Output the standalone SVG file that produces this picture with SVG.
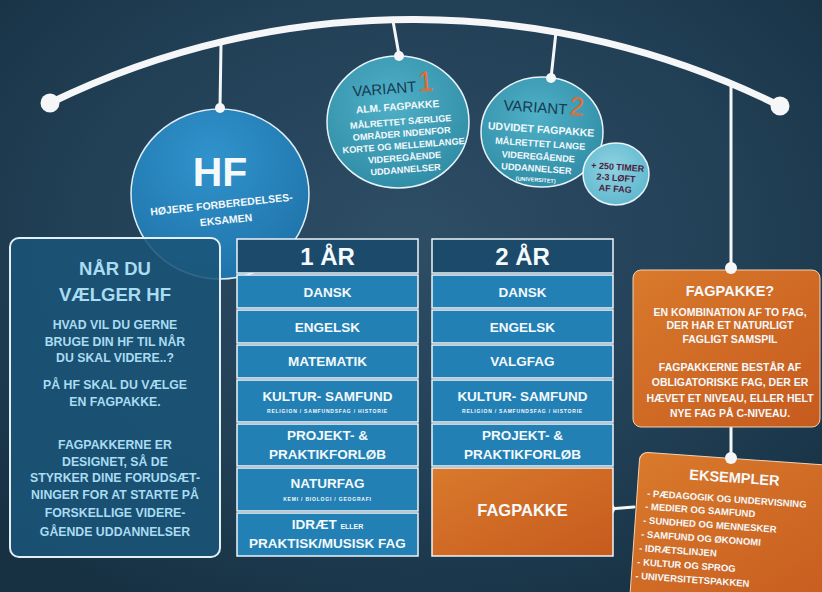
<svg xmlns="http://www.w3.org/2000/svg" width="822" height="592" viewBox="0 0 822 592">
<defs>
<radialGradient id="bg" cx="0.5" cy="0.4" r="0.7">
<stop offset="0" stop-color="#2e4e66"/>
<stop offset="0.6" stop-color="#213f55"/>
<stop offset="1" stop-color="#173143"/>
</radialGradient>
<radialGradient id="hfg" cx="0.45" cy="0.3" r="0.7">
<stop offset="0" stop-color="#3193cc"/>
<stop offset="1" stop-color="#1f74aa"/>
</radialGradient>
<radialGradient id="tealg" cx="0.45" cy="0.35" r="0.7">
<stop offset="0" stop-color="#4fb0c6"/>
<stop offset="1" stop-color="#2f8ba5"/>
</radialGradient>
<radialGradient id="smallg" cx="0.45" cy="0.4" r="0.7">
<stop offset="0" stop-color="#8fd3e2"/>
<stop offset="1" stop-color="#5ab4cb"/>
</radialGradient>
<linearGradient id="og" x1="0" y1="0" x2="1" y2="1">
<stop offset="0" stop-color="#d97a2c"/>
<stop offset="1" stop-color="#c65a1e"/>
</linearGradient>
<style>
.t{font-family:"Liberation Sans",Arial,sans-serif;font-weight:bold;text-anchor:middle}
.w{fill:#f4f9fc}
.lb{fill:#aadcf2}
.row{fill:#2280b4;stroke:#eef5fa;stroke-width:1.5}
.hdr{fill:#1b4a6b;stroke:#eef5fa;stroke-width:1.5}
.str{stroke:#f4f6f8;stroke-width:3;fill:none;stroke-linecap:round}
.dot{fill:#f4f6f8}
.r14{font-size:13.5px}
.sub{font-size:5px;letter-spacing:0.8px}
.ls{text-anchor:start}
</style>
</defs>
<rect width="822" height="592" fill="url(#bg)"/>

<g id="connectors">
<path d="M50,103 A826,826 0 0,1 780,106" stroke="#f4f6f8" stroke-width="7" fill="none"/>
<circle class="dot" cx="50" cy="103" r="9.5"/>
<circle class="dot" cx="780" cy="106" r="9.5"/>
<line class="str" x1="221" y1="44" x2="220" y2="108"/>
<line class="str" x1="393" y1="21" x2="399" y2="55"/>
<line class="str" x1="556" y1="32" x2="551" y2="78"/>
<line class="str" x1="731" y1="84" x2="731" y2="458"/>
<line class="str" x1="609" y1="509" x2="634" y2="507"/>
<circle class="dot" cx="609" cy="509" r="6"/>
</g>

<g id="hf">
<ellipse cx="220" cy="194" rx="89" ry="85" fill="url(#hfg)" stroke="#dfeef7" stroke-width="1.5"/>
<circle class="dot" cx="220" cy="108" r="5"/>
<text class="t w" x="220" y="186" font-size="41">HF</text>
<g transform="rotate(-6 222 210)">
<text class="t w" x="222" y="208" font-size="10.5">HØJERE FORBEREDELSES-</text>
<text class="t w" x="225" y="224" font-size="10.5">EKSAMEN</text>
</g>
</g>

<g id="variant1">
<ellipse cx="398" cy="122" rx="71" ry="66" fill="url(#tealg)" stroke="#e6f3f7" stroke-width="1.5"/>
<circle class="dot" cx="399" cy="56" r="5"/>
<g transform="rotate(-4.5 400 125)">
<text class="t" x="396" y="93"><tspan fill="#173a52" font-size="15" font-weight="normal">VARIANT</tspan><tspan fill="#ea6a2c" font-size="28" font-weight="normal" dx="2">1</tspan></text>
<text class="t w" x="399" y="110" font-size="10.2">ALM. FAGPAKKE</text>
<text class="t w" x="401" y="125" font-size="9.2">MÅLRETTET SÆRLIGE</text>
<text class="t w" x="401" y="137" font-size="9.2">OMRÅDER INDENFOR</text>
<text class="t w" x="402" y="149" font-size="9.2">KORTE OG MELLEMLANGE</text>
<text class="t w" x="402" y="161" font-size="9.2">VIDEREGÅENDE</text>
<text class="t w" x="402" y="173" font-size="9.2">UDDANNELSER</text>
</g>
</g>

<g id="variant2">
<ellipse cx="542" cy="132" rx="61" ry="55" fill="url(#tealg)" stroke="#e6f3f7" stroke-width="1.5"/>
<circle class="dot" cx="551" cy="78" r="5"/>
<g transform="rotate(4 542 132)">
<text class="t" x="542" y="113"><tspan fill="#173a52" font-size="15" font-weight="normal">VARIANT</tspan><tspan fill="#ea6a2c" font-size="26" font-weight="normal" dx="2">2</tspan></text>
<text class="t w" x="541" y="133" font-size="10.5">UDVIDET FAGPAKKE</text>
<text class="t w" x="541" y="147" font-size="9.2">MÅLRETTET LANGE</text>
<text class="t w" x="540" y="160" font-size="9.2">VIDEREGÅENDE</text>
<text class="t w" x="539" y="172" font-size="9.2">UDDANNELSER</text>
<text class="t w" x="539" y="182" font-size="5.5">(UNIVERSITET)</text>
</g>
</g>

<g id="extra">
<ellipse cx="616" cy="174" rx="33" ry="31" fill="url(#smallg)" stroke="#e6f3f7" stroke-width="1.5"/>
<g transform="rotate(4 617 177)">
<text class="t" x="617" y="170" font-size="9" fill="#4a1d3c">+ 250 TIMER</text>
<text class="t" x="616" y="181" font-size="9" fill="#4a1d3c">2-3 LØFT</text>
<text class="t" x="616" y="192" font-size="9" fill="#4a1d3c">AF FAG</text>
</g>
</g>

<g id="naar-du">
<rect x="10" y="238" width="210" height="319" rx="9" fill="#1a5478" fill-opacity="0.88" stroke="#e3eff6" stroke-width="2"/>
<text class="t lb" x="115" y="275" font-size="18.5">NÅR DU</text>
<text class="t lb" x="115" y="301" font-size="18.5">VÆLGER HF</text>
<g font-size="12.3">
<text class="t lb" x="115" y="329">HVAD VIL DU GERNE</text>
<text class="t lb" x="115" y="346">BRUGE DIN HF TIL NÅR</text>
<text class="t lb" x="115" y="362">DU SKAL VIDERE..?</text>
<text class="t lb" x="115" y="389">PÅ HF SKAL DU VÆLGE</text>
<text class="t lb" x="115" y="406">EN FAGPAKKE.</text>
<text class="t lb" x="115" y="449">FAGPAKKERNE ER</text>
<text class="t lb" x="115" y="466">DESIGNET, SÅ DE</text>
<text class="t lb" x="115" y="482">STYRKER DINE FORUDSÆT-</text>
<text class="t lb" x="115" y="499">NINGER FOR AT STARTE PÅ</text>
<text class="t lb" x="115" y="517">FORSKELLIGE VIDERE-</text>
<text class="t lb" x="115" y="536">GÅENDE UDDANNELSER</text>
</g>
</g>

<g id="aar1">
<rect class="hdr" x="237" y="239" width="181" height="34"/>
<text class="t w" x="327.5" y="265" font-size="24">1 ÅR</text>
<rect class="row" x="237" y="275" width="181" height="33"/>
<text class="t w r14" x="327.5" y="297">DANSK</text>
<rect class="row" x="237" y="310" width="181" height="33"/>
<text class="t w r14" x="327.5" y="332">ENGELSK</text>
<rect class="row" x="237" y="345" width="181" height="33"/>
<text class="t w r14" x="327.5" y="366">MATEMATIK</text>
<rect class="row" x="237" y="380" width="181" height="42"/>
<text class="t w r14" x="327.5" y="401">KULTUR- SAMFUND</text>
<text class="t w sub" x="327.5" y="413">RELIGION  /  SAMFUNDSFAG  /  HISTORIE</text>
<rect class="row" x="237" y="424" width="181" height="42"/>
<text class="t w r14" x="327.5" y="440">PROJEKT- &amp;</text>
<text class="t w r14" x="327.5" y="459">PRAKTIKFORLØB</text>
<rect class="row" x="237" y="468" width="181" height="43"/>
<text class="t w r14" x="327.5" y="488">NATURFAG</text>
<text class="t w sub" x="327.5" y="501">KEMI  /  BIOLOGI  /  GEOGRAFI</text>
<rect class="row" x="237" y="513" width="181" height="43"/>
<text class="t w r14" x="327.5" y="529">IDRÆT <tspan font-size="7">ELLER</tspan></text>
<text class="t w r14" x="327.5" y="548">PRAKTISK/MUSISK FAG</text>
</g>

<g id="aar2">
<rect class="hdr" x="432" y="239" width="181" height="34"/>
<text class="t w" x="522.5" y="265" font-size="24">2 ÅR</text>
<rect class="row" x="432" y="275" width="181" height="33"/>
<text class="t w r14" x="522.5" y="297">DANSK</text>
<rect class="row" x="432" y="310" width="181" height="33"/>
<text class="t w r14" x="522.5" y="332">ENGELSK</text>
<rect class="row" x="432" y="345" width="181" height="33"/>
<text class="t w r14" x="522.5" y="366">VALGFAG</text>
<rect class="row" x="432" y="380" width="181" height="42"/>
<text class="t w r14" x="522.5" y="401">KULTUR- SAMFUND</text>
<text class="t w sub" x="522.5" y="413">RELIGION  /  SAMFUNDSFAG  /  HISTORIE</text>
<rect class="row" x="432" y="424" width="181" height="42"/>
<text class="t w r14" x="522.5" y="440">PROJEKT- &amp;</text>
<text class="t w r14" x="522.5" y="459">PRAKTIKFORLØB</text>
</g>

<g id="fagpakke">
<rect x="432" y="468" width="181" height="88" fill="url(#og)" stroke="#eef5fa" stroke-width="1.5"/>
<text class="t w" x="522.5" y="516" font-size="16.5">FAGPAKKE</text>
</g>

<g id="fagpakke-info">
<rect x="633" y="270" width="187" height="157" rx="8" fill="url(#og)" stroke="#f2d2b4" stroke-width="1"/>
<circle class="dot" cx="731" cy="268" r="6"/>
<text class="t w" x="730" y="296" font-size="14.5">FAGPAKKE?</text>
<g font-size="10.5">
<text class="t w" x="730" y="316">EN KOMBINATION AF TO FAG,</text>
<text class="t w" x="730" y="329">DER HAR ET NATURLIGT</text>
<text class="t w" x="730" y="343">FAGLIGT SAMSPIL</text>
<text class="t w" x="730" y="371">FAGPAKKERNE BESTÅR AF</text>
<text class="t w" x="730" y="386">OBLIGATORISKE FAG, DER ER</text>
<text class="t w" x="730" y="402">HÆVET ET NIVEAU, ELLER HELT</text>
<text class="t w" x="730" y="417">NYE FAG PÅ C-NIVEAU.</text>
</g>
</g>

<g id="eksempler" transform="translate(640,452) rotate(4)">
<rect x="0" y="0" width="210" height="150" rx="8" fill="url(#og)" stroke="#f2d2b4" stroke-width="1"/>
<text class="t w" x="96" y="24" font-size="14.5">EKSEMPLER</text>
<g font-size="9.5">
<text class="t w ls" x="10" y="44">-  PÆDAGOGIK OG UNDERVISNING</text>
<text class="t w ls" x="9" y="57">-  MEDIER OG SAMFUND</text>
<text class="t w ls" x="8" y="71">-  SUNDHED OG MENNESKER</text>
<text class="t w ls" x="7" y="85">-  SAMFUND OG ØKONOMI</text>
<text class="t w ls" x="6" y="99">-  IDRÆTSLINJEN</text>
<text class="t w ls" x="5" y="113">-  KULTUR OG SPROG</text>
<text class="t w ls" x="4" y="127">-  UNIVERSITETSPAKKEN</text>
</g>
</g>
<circle class="dot" cx="731" cy="458" r="6"/>
</svg>
